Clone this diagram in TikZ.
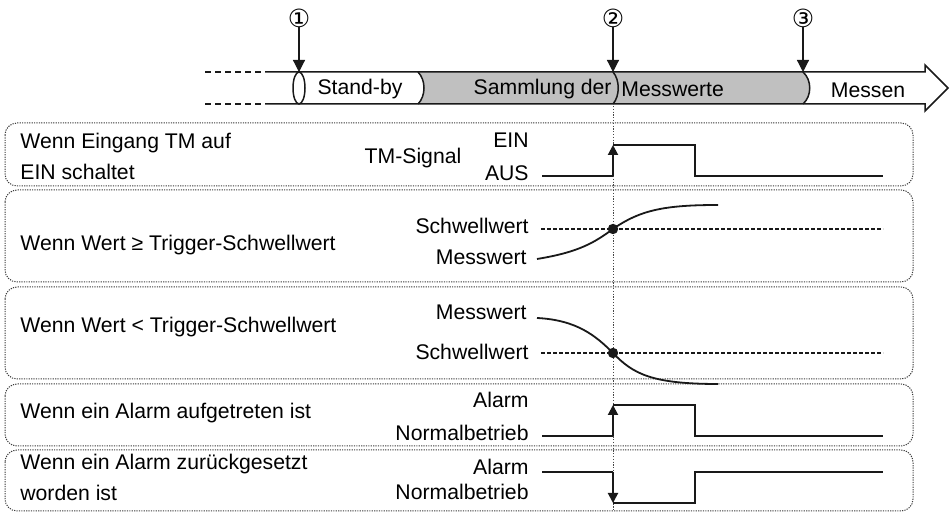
\documentclass[tikz,border=0pt]{standalone}
\usepackage{fontspec}
\setmainfont{Liberation Sans}
\newfontfamily\numfont{DejaVu Sans}
\usetikzlibrary{arrows.meta, positioning, calc}
\definecolor{tdgray}{RGB}{192, 192, 192}
\definecolor{tdink}{RGB}{25, 25, 25}
\tikzset{
  panel/.style={
    draw=tdink!85,
    line width=0.5pt,
    dash pattern=on 0.6pt off 0.6pt,
    rounded corners=6pt
  },
  sig/.style={
    draw=tdink,
    line width=1pt
  },
  sigarrow/.style={
    sig,
    -{Triangle[length=5pt, width=5pt]}
  },
  markarrow/.style={
    draw=tdink,
    line width=0.6pt,
    -{Triangle[length=6pt, width=6pt]}
  },
  thresh/.style={
    draw=tdink,
    line width=0.7pt,
    dash pattern=on 2pt off 1pt
  },
  cond/.style={
    anchor=west,
    align=left,
    inner sep=0pt,
    font=\fontsize{10.6}{15.5}\selectfont
  },
  level/.style={
    anchor=east,
    inner sep=0pt,
    font=\fontsize{10.6}{12}\selectfont
  },
  phase/.style={
    inner sep=0pt,
    font=\fontsize{10.6}{12}\selectfont
  },
  marker/.style={
    inner sep=0pt,
    font=\numfont\fontsize{12.5}{13}\selectfont
  },
  trigger/.style={
    draw=tdink!80,
    line width=0.5pt,
    dash pattern=on 0.6pt off 0.8pt
  }
}

\begin{document}
\begin{tikzpicture}[x=0.5pt, y=-0.5pt]
  \useasboundingbox (0,0) rectangle (950,512);

  % time bar
  \fill[tdgray] (418,72) .. controls (426,80) and (426,96) .. (418,104)
    -- (803,104) .. controls (812,96) and (812,80) .. (803,72) -- cycle;
  \draw[tdink, line width=0.75pt, dash pattern=on 3pt off 2pt] (205,72) -- (263,72) (205,104) -- (263,104);
  \draw[tdink, line width=0.75pt] (265,72) -- (925,72) -- (925,65) -- (948,88)
    -- (925,111) -- (925,104) -- (265,104);
  \draw[tdink, line width=0.75pt, fill=white] (299,88) ellipse [x radius=3pt, y radius=8pt];
  \draw[tdink, line width=0.75pt] (418,72) .. controls (426,80) and (426,96) .. (418,104);
  \draw[tdink, line width=0.75pt] (613,72) .. controls (620,80) and (620,96) .. (613,104);
  \draw[tdink, line width=0.75pt] (803,72) .. controls (812,80) and (812,96) .. (803,104);

  \node[phase] (standby) at (360,89) {Stand-by};
  \node[phase, anchor=east] (samml) at (612,89) {Sammlung der};
  \node[phase, anchor=west] (messw) at (621,89) {Messwerte};
  \node[phase] (messen) at (868,90) {Messen};

  % markers
  \node[marker] (m1) at (299,18) {①};
  \node[marker] (m2) at (613,18) {②};
  \node[marker] (m3) at (803,18) {③};
  \foreach \m in {m1, m2, m3}
    \draw[markarrow] (\m.south) ++(0,-1) -- (\m |- 0,72);

  \draw[trigger] (613,106) -- (613,512);

  % panels
  \draw[panel] (5,123) rectangle (913,186);
  \draw[panel] (5,190) rectangle (913,282);
  \draw[panel] (5,287) rectangle (913,379);
  \draw[panel] (5,384) rectangle (913,446);
  \draw[panel] (5,450) rectangle (913,511);

  % TM input
  \node[cond] (c1) at (20,156) {Wenn Eingang TM auf\\EIN schaltet};
  \node[phase] (tmsig) at (413,158) {TM-Signal};
  \node[level] (ein) at (529,140) {EIN};
  \node[level] (aus) at (529,173) {AUS};
  \draw[sig] (542,176) -- (613,176);
  \draw[sigarrow] (613,176) -- (613,145);
  \draw[sig] (613,145) -- (695,145) -- (695,176) -- (883,176);

  % rising value
  \node[cond] (c2) at (20,245) {Wenn Wert ≥ Trigger-Schwellwert};
  \node[level] (sw1) at (529,226) {Schwellwert};
  \node[level] (mw1) at (527,257) {Messwert};
  \draw[thresh] (541,229) -- (883,229);
  \draw[sig, line width=0.9pt] (537,259) .. controls (580,252) and (595,242) .. (613,229)
    .. controls (640,210) and (665,205) .. (718,205);
  \fill[tdink] (613,229) circle[radius=2.6pt];

  % falling value
  \node[cond] (c3) at (20,327) {Wenn Wert < Trigger-Schwellwert};
  \node[level] (mw2) at (527,312) {Messwert};
  \node[level] (sw2) at (529,352) {Schwellwert};
  \draw[thresh] (541,353) -- (883,353);
  \draw[sig, line width=0.9pt] (537,318) .. controls (577,320) and (596,336) .. (613,353)
    .. controls (633,374) and (652,384) .. (718,384);
  \fill[tdink] (613,353) circle[radius=2.6pt];

  % alarm on
  \node[cond] (c4) at (20,413) {Wenn ein Alarm aufgetreten ist};
  \node[level] (al1) at (529,400) {Alarm};
  \node[level] (nb1) at (529,433) {Normalbetrieb};
  \draw[sig] (542,436) -- (613,436);
  \draw[sigarrow] (613,436) -- (613,405);
  \draw[sig] (613,405) -- (695,405) -- (695,436) -- (883,436);

  % alarm reset
  \node[cond] (c5) at (20,477) {Wenn ein Alarm zurückgesetzt\\worden ist};
  \node[level] (al2) at (529,467) {Alarm};
  \node[level] (nb2) at (529,492) {Normalbetrieb};
  \draw[sig] (542,472) -- (613,472);
  \draw[sigarrow] (613,472) -- (613,503);
  \draw[sig] (613,503) -- (695,503) -- (695,472) -- (883,472);
\end{tikzpicture}
\end{document}
